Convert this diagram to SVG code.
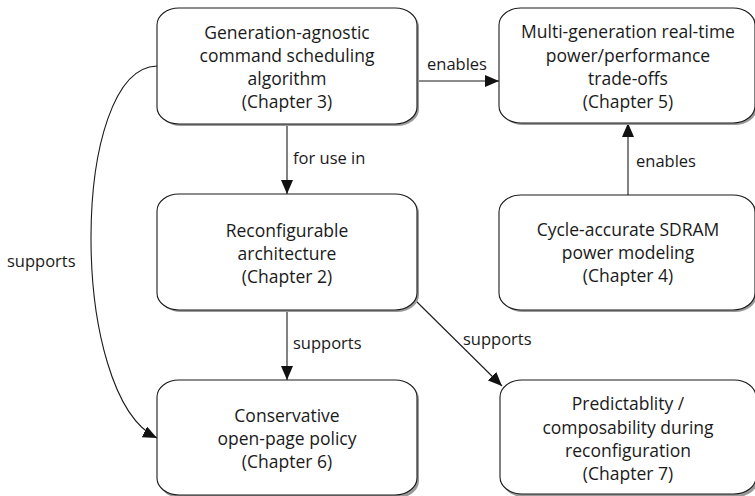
<svg xmlns="http://www.w3.org/2000/svg" width="755" height="496" viewBox="0 0 755 496">
  <style>
    .box { fill: #ffffff; stroke: #1a1a1a; stroke-width: 1.1; }
    .shadow { fill: #9a9a9a; }
    .txt { font-family: "Open Sans", "Noto Sans", sans-serif; font-size: 17.5px; fill: #1a1a1a; text-anchor: middle; }
    .lbl { font-family: "Open Sans", "Noto Sans", sans-serif; font-size: 16.5px; fill: #1a1a1a; }
    .edge { fill: none; stroke: #1a1a1a; stroke-width: 1.1; }
  </style>
  <defs>
    <marker id="arrow" viewBox="0 0 14 12" refX="14" refY="6" markerWidth="14" markerHeight="12" markerUnits="userSpaceOnUse" orient="auto">
      <path d="M0,0 L14,6 L0,12 Z" fill="#111111"/>
    </marker>
  </defs>

  <rect width="755" height="496" fill="#ffffff"/>

  <!-- connectors -->
  <g id="connectors">
    <path class="edge" d="M417,81 H499" marker-end="url(#arrow)"/>
    <text class="lbl" x="427" y="70">enables</text>

    <path class="edge" d="M287,124 V194" marker-end="url(#arrow)"/>
    <text class="lbl" x="293" y="164">for use in</text>

    <path class="edge" d="M628,195 V123" marker-end="url(#arrow)"/>
    <text class="lbl" x="636" y="167">enables</text>

    <path class="edge" d="M287,310 V380" marker-end="url(#arrow)"/>
    <text class="lbl" x="293" y="349">supports</text>

    <path class="edge" d="M415,300 L502,386" marker-end="url(#arrow)"/>
    <text class="lbl" x="463" y="345">supports</text>

    <path class="edge" d="M157,66 C70,68 68,395 157,438" marker-end="url(#arrow)"/>
    <text class="lbl" x="7" y="267">supports</text>
  </g>

  <!-- Chapter 3 -->
  <g id="node-ch3">
    <rect class="shadow" x="159" y="10" width="260" height="116" rx="22" ry="17"/>
    <rect class="box" x="157" y="8" width="260" height="116" rx="22" ry="17"/>
    <text class="txt" x="287" y="39">Generation-agnostic</text>
    <text class="txt" x="287" y="62">command scheduling</text>
    <text class="txt" x="287" y="85">algorithm</text>
    <text class="txt" x="287" y="108">(Chapter 3)</text>
  </g>

  <!-- Chapter 5 -->
  <g id="node-ch5">
    <rect class="shadow" x="501" y="10" width="256" height="115" rx="22" ry="17"/>
    <rect class="box" x="499" y="8" width="256" height="115" rx="22" ry="17"/>
    <text class="txt" x="628" y="38">Multi-generation real-time</text>
    <text class="txt" x="628" y="62">power/performance</text>
    <text class="txt" x="628" y="85">trade-offs</text>
    <text class="txt" x="628" y="108">(Chapter 5)</text>
  </g>

  <!-- Chapter 2 -->
  <g id="node-ch2">
    <rect class="shadow" x="159" y="196" width="260" height="116" rx="22" ry="17"/>
    <rect class="box" x="157" y="194" width="260" height="116" rx="22" ry="17"/>
    <text class="txt" x="287" y="237">Reconfigurable</text>
    <text class="txt" x="287" y="260">architecture</text>
    <text class="txt" x="287" y="283">(Chapter 2)</text>
  </g>

  <!-- Chapter 4 -->
  <g id="node-ch4">
    <rect class="shadow" x="501" y="197" width="256" height="115" rx="22" ry="17"/>
    <rect class="box" x="499" y="195" width="256" height="115" rx="22" ry="17"/>
    <text class="txt" x="628" y="236">Cycle-accurate SDRAM</text>
    <text class="txt" x="628" y="259">power modeling</text>
    <text class="txt" x="628" y="282">(Chapter 4)</text>
  </g>

  <!-- Chapter 6 -->
  <g id="node-ch6">
    <rect class="shadow" x="159" y="382" width="260" height="116" rx="22" ry="17"/>
    <rect class="box" x="157" y="380" width="260" height="115" rx="22" ry="17"/>
    <text class="txt" x="287" y="422">Conservative</text>
    <text class="txt" x="287" y="445">open-page policy</text>
    <text class="txt" x="287" y="468">(Chapter 6)</text>
  </g>

  <!-- Chapter 7 -->
  <g id="node-ch7">
    <rect class="shadow" x="502" y="382" width="256" height="115" rx="22" ry="17"/>
    <rect class="box" x="500" y="380" width="256" height="114" rx="22" ry="17"/>
    <text class="txt" x="628" y="410">Predictablity /</text>
    <text class="txt" x="628" y="434">composability during</text>
    <text class="txt" x="628" y="457">reconfiguration</text>
    <text class="txt" x="628" y="480">(Chapter 7)</text>
  </g>
</svg>
